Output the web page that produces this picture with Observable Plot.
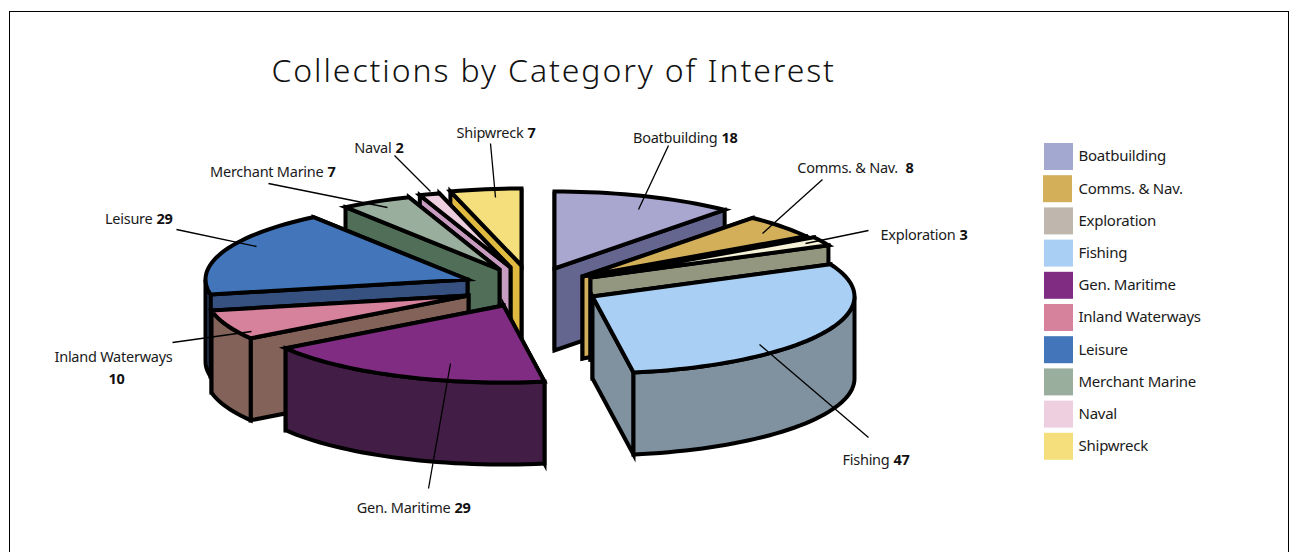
<!DOCTYPE html>
<html>
<head>
<meta charset="utf-8">
<script src="https://cdn.jsdelivr.net/npm/d3@7"></script>
<script src="https://cdn.jsdelivr.net/npm/@observablehq/plot@0.6"></script>
<style>
html,body{margin:0;padding:0;background:#fff;}
#frame{position:absolute;left:9px;top:11px;width:1280px;height:560px;border:1px solid #000;box-sizing:border-box;}
#wrap{position:relative;width:1295px;height:552px;overflow:hidden;}
svg{position:absolute;left:0;top:0;background:transparent !important;}
.ttl{letter-spacing:1.9px;}
.lab{letter-spacing:-0.25px;}
</style>
</head>
<body>
<div id="wrap"><div id="frame"></div></div>
<script>
// --- data ---
const categories = ["Boatbuilding","Comms. & Nav.","Exploration","Fishing","Gen. Maritime","Inland Waterways","Leisure","Merchant Marine","Naval","Shipwreck"];
const values = [18,8,3,47,29,10,29,7,2,7];
const legendColors = ["#a3a8d0","#d3af5a","#bfb7ad","#a9d0f4","#7f2c82","#d6829c","#4275ba","#9aae9e","#eecfdf","#f5df7d"];
const topColors = ["#a9a6cf","#d3af5a","#f6f3d8","#a9d0f4","#7f2c82","#d6829c","#4275ba","#9aae9e","#eecfdf","#f5df7d"];
const sideColors = ["#64668f","#d3af5a","#949780","#80929f","#421d45","#83625a","#365080","#506e58","#c89cc0","#e0b940"];

// --- layout of the exploded pie (where each slice's tip sits) ---
const tipX = [554,582,590,592,503,468,467,499,510,521];
const tipY = [268,276,277,296,305,295,279,269,267,265];
const rx = 262, ry = 77, depth = 82;
const drawOrder = [9,8,7,6,5,4,0,1,2,3];

// --- annotation layout ---
const labels = [
  {name:"Boatbuilding", val:"18", split:721, y:139, line:[668,145,638,209]},
  {name:"Comms. & Nav. ", val:"8", split:905, y:169, line:[822,179,762,233]},
  {name:"Exploration", val:"3", split:959, y:236, line:[868,230,805,243]},
  {name:"Fishing", val:"47", split:893, y:461, line:[868,437,759,344]},
  {name:"Gen. Maritime", val:"29", split:454, y:509, line:[428,488,450,363]},
  {name:"Leisure", val:"29", split:156, y:220, line:[176,229,256,246]},
  {name:"Merchant Marine", val:"7", split:327, y:173, line:[268,183,387,207]},
  {name:"Naval", val:"2", split:395, y:149, line:[394,155,430,191]},
  {name:"Shipwreck", val:"7", split:527, y:134, line:[490,143,495,197]}
];
const inland = {name:"Inland Waterways", val:"10", cx:113, y1:358, y2:380, line:[172,342,251,331]};

const total = d3.sum(values);
const cum = d3.cumsum(values);
const rad = d => d * Math.PI / 180;
const pt = (i, a, dz = 0) => ({x: tipX[i] + rx * Math.sin(rad(a)), y: tipY[i] - ry * Math.cos(rad(a)) + dz});
const arc = (i, a0, a1, dz = 0) => {
  const n = Math.max(2, Math.ceil((a1 - a0) / 2));
  return d3.range(n + 1).map(k => pt(i, a0 + (a1 - a0) * k / n, dz));
};
const tip = (i, dz = 0) => ({x: tipX[i], y: tipY[i] + dz});

const poly = (points, fill) => Plot.line(points, {
  x: "x", y: "y", curve: "linear-closed", fill, stroke: "#000",
  strokeWidth: 4, strokeLinejoin: "miter", strokeMiterlimit: 6
});

const sliceMarks = drawOrder.flatMap(i => {
  const a0 = (cum[i] - values[i]) / total * 360, a1 = cum[i] / total * 360;
  const face = a => poly([tip(i), pt(i, a), pt(i, a, depth), tip(i, depth)], sideColors[i]);
  const faces = (a0 + a1) / 2 < 180 ? [face(a0), face(a1)] : [face(a1), face(a0)];
  const r0 = Math.max(a0, 90), r1 = Math.min(a1, 270);
  const rim = r1 > r0 ? [poly([...arc(i, r0, r1), ...arc(i, r0, r1, depth).reverse()], sideColors[i])] : [];
  const top = poly([tip(i), ...arc(i, a0, a1)], topColors[i]);
  return [...faces, ...rim, top];
});

const font = "'Noto Sans', sans-serif";
const leaderRows = [...labels, inland];
const legendRows = categories.map((name, i) => ({name, i, color: legendColors[i], y: 143 + i * 32.2, x: i === 1 ? 1043 : 1044}));

const chart = Plot.plot({
  width: 1295, height: 552,
  marginLeft: 0, marginRight: 0, marginTop: 0, marginBottom: 0,
  x: {domain: [0, 1295], range: [0, 1295], axis: null},
  y: {domain: [0, 552], range: [0, 552], axis: null},
  color: {type: "identity"},
  marks: [
    ...sliceMarks,
    Plot.link(leaderRows, {x1: d => d.line[0], y1: d => d.line[1], x2: d => d.line[2], y2: d => d.line[3], stroke: "#000", strokeWidth: 1.3}),
    Plot.text(["Collections by Category of Interest"], {x: 271, y: 73, text: d => d, textAnchor: "start", lineAnchor: "bottom", frameAnchor: null, fontSize: 32, fontWeight: 300, fontFamily: font, fill: "#111", className: "ttl", dy: 8}),
    Plot.text(labels, {x: "split", y: "y", text: "name", textAnchor: "end", dx: -4, lineAnchor: "bottom", fontSize: 14.5, fontFamily: font, fill: "#1a1a1a", className: "lab", dy: 3}),
    Plot.text(labels, {x: "split", y: "y", text: "val", textAnchor: "start", lineAnchor: "bottom", fontSize: 14.5, fontWeight: 700, fontFamily: font, fill: "#111", className: "lab", dy: 3}),
    Plot.text([inland], {x: "cx", y: "y1", text: "name", textAnchor: "middle", lineAnchor: "bottom", fontSize: 14.5, fontFamily: font, fill: "#1a1a1a", className: "lab", dy: 3}),
    Plot.text([inland], {x: d => d.cx + 3, y: "y2", text: "val", textAnchor: "middle", lineAnchor: "bottom", fontSize: 14.5, fontWeight: 700, fontFamily: font, fill: "#111", className: "lab", dy: 3}),
    Plot.rect(legendRows, {x1: "x", x2: d => d.x + 29, y1: "y", y2: d => d.y + 27, fill: "color"}),
    Plot.text(legendRows, {x: 1078, y: d => d.y + 13, text: "name", textAnchor: "start", fontSize: 15, fontFamily: font, fill: "#1a1a1a", className: "lab"})
  ]
});
document.getElementById("wrap").appendChild(chart);
</script>
</body>
</html>
